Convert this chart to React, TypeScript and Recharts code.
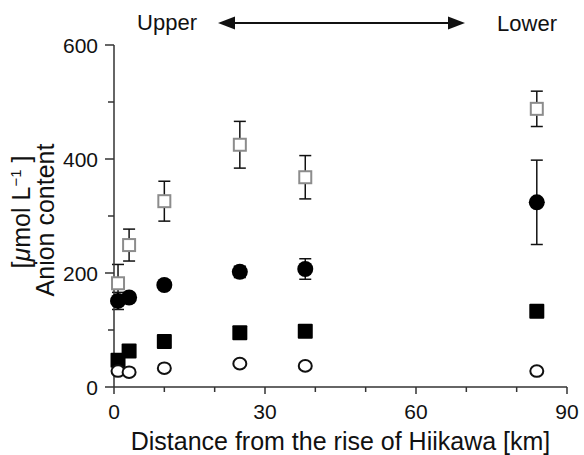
import React from "react";
import { ScatterChart, Scatter, XAxis, YAxis, ErrorBar } from "recharts";

// distance from the river source [km]
const distance = [0.8, 3, 10, 25, 38, 84];

// anion contents [umol/L], one array per marker type
const openSquareVals = [182, 249, 326, 425, 368, 488];
const openSquareErr = [33, 28, 35, 41, 38, 31];
const filledCircleVals = [151, 157, 179, 202, 207, 324];
const filledCircleErr = [15, 8, 6, 10, 18, 74];
const filledSquareVals = [47, 63, 80, 95, 98, 133];
const openCircleVals = [28, 26, 33, 41, 37, 28];

const xTicks = [0, 10, 20, 30, 40, 50, 60, 70, 80, 90];
const xMajor = [0, 30, 60, 90];
const yTicks = [0, 100, 200, 300, 400, 500, 600];
const yMajor = [0, 200, 400, 600];

const FONT = '"Liberation Sans", Arial, Helvetica, sans-serif';
const AXIS = "#333";

const build = (vals: number[], errs?: number[]) =>
  distance.map((x, i) => ({ x, y: vals[i], err: errs ? errs[i] : 0 }));

const openSquares = build(openSquareVals, openSquareErr);
const filledCircles = build(filledCircleVals, filledCircleErr);
const filledSquares = build(filledSquareVals);
const openCircles = build(openCircleVals);

function XTick({ x, y, payload }: any) {
  const major = xMajor.includes(payload.value);
  return (
    <g>
      <line x1={x} x2={x} y1={y} y2={y + (major ? 7 : 5)} stroke={AXIS} strokeWidth={1.5} />
      {major && (
        <text x={x} y={y + 32} textAnchor="middle" fontSize={21} fontFamily={FONT} fill="#111">
          {payload.value}
        </text>
      )}
    </g>
  );
}

function YTick({ x, y, payload }: any) {
  const major = yMajor.includes(payload.value);
  return (
    <g>
      <line x1={x} x2={x - (major ? 9 : 6)} y1={y} y2={y} stroke={AXIS} strokeWidth={1.5} />
      {major && (
        <text x={x - 16} y={y + 8} textAnchor="end" fontSize={21} fontFamily={FONT} fill="#111">
          {payload.value}
        </text>
      )}
    </g>
  );
}

function XTitle({ viewBox }: any) {
  return (
    <text
      x={viewBox.x + viewBox.width / 2}
      y={viewBox.y + 63}
      textAnchor="middle"
      fontSize={25}
      fontFamily={FONT}
      fill="#111"
    >
      Distance from the rise of Hiikawa [km]
    </text>
  );
}

function YTitle({ viewBox }: any) {
  const cy = viewBox.y + viewBox.height / 2;
  return (
    <g fontFamily={FONT} fontSize={25} fill="#111">
      <text x={54} y={cy + 4} transform={`rotate(-90 54 ${cy + 4})`} textAnchor="middle">
        Anion content
      </text>
      <text x={30} y={cy - 4} transform={`rotate(-90 30 ${cy - 4})`} textAnchor="middle">
        [<tspan fontStyle="italic">μ</tspan>mol L
        <tspan fontSize={15} dy={-9}>−1</tspan>
        <tspan dy={9}> ]</tspan>
      </text>
    </g>
  );
}

const OpenSquare = ({ cx, cy }: any) => (
  <rect x={cx - 6} y={cy - 6} width={12} height={12} fill="#fff" stroke="#8c8c8c" strokeWidth={2} />
);
const FilledCircle = ({ cx, cy }: any) => <circle cx={cx} cy={cy} r={8} fill="#000" />;
const FilledSquare = ({ cx, cy }: any) => (
  <rect x={cx - 7.5} y={cy - 7.5} width={15} height={15} fill="#000" rx={1} />
);
const OpenCircle = ({ cx, cy }: any) => (
  <ellipse cx={cx} cy={cy} rx={6.5} ry={5.8} fill="#fff" stroke="#111" strokeWidth={2} />
);

export default function App() {
  return (
    <div style={{ position: "absolute", left: 0, top: 0, width: 584, height: 455, background: "#fff" }}>
      <ScatterChart width={584} height={455} margin={{ top: 45, right: 17, left: 0, bottom: 0 }}>
        <XAxis
          type="number"
          dataKey="x"
          domain={[0, 90]}
          ticks={xTicks}
          interval={0}
          height={68}
          tickSize={0}
          tickMargin={0}
          tickLine={false}
          axisLine={{ stroke: AXIS, strokeWidth: 1.5 }}
          tick={<XTick />}
          label={{ content: <XTitle /> }}
        />
        <YAxis
          type="number"
          dataKey="y"
          domain={[0, 600]}
          ticks={yTicks}
          interval={0}
          width={114}
          tickSize={0}
          tickMargin={0}
          tickLine={false}
          axisLine={{ stroke: AXIS, strokeWidth: 1.5 }}
          tick={<YTick />}
          label={{ content: <YTitle /> }}
        />
        <Scatter data={openSquares} shape={<OpenSquare />} isAnimationActive={false}>
          <ErrorBar dataKey="err" direction="y" width={6} stroke="#111" strokeWidth={1.5} />
        </Scatter>
        <Scatter data={filledCircles} shape={<FilledCircle />} isAnimationActive={false}>
          <ErrorBar dataKey="err" direction="y" width={6} stroke="#111" strokeWidth={1.5} />
        </Scatter>
        <Scatter data={filledSquares} shape={<FilledSquare />} isAnimationActive={false} />
        <Scatter data={openCircles} shape={<OpenCircle />} isAnimationActive={false} />
      </ScatterChart>
      <svg
        width={584}
        height={40}
        style={{ position: "absolute", left: 0, top: 0 }}
        fontFamily={FONT}
      >
        <text x={167} y={30} textAnchor="middle" fontSize={22} fill="#111">
          Upper
        </text>
        <line x1={230} x2={452} y1={23} y2={23} stroke="#111" strokeWidth={2} />
        <polygon points="218,23 235,16.5 235,29.5" fill="#111" />
        <polygon points="465,23 448,16.5 448,29.5" fill="#111" />
        <text x={527} y={31} textAnchor="middle" fontSize={22} fill="#111">
          Lower
        </text>
      </svg>
    </div>
  );
}
